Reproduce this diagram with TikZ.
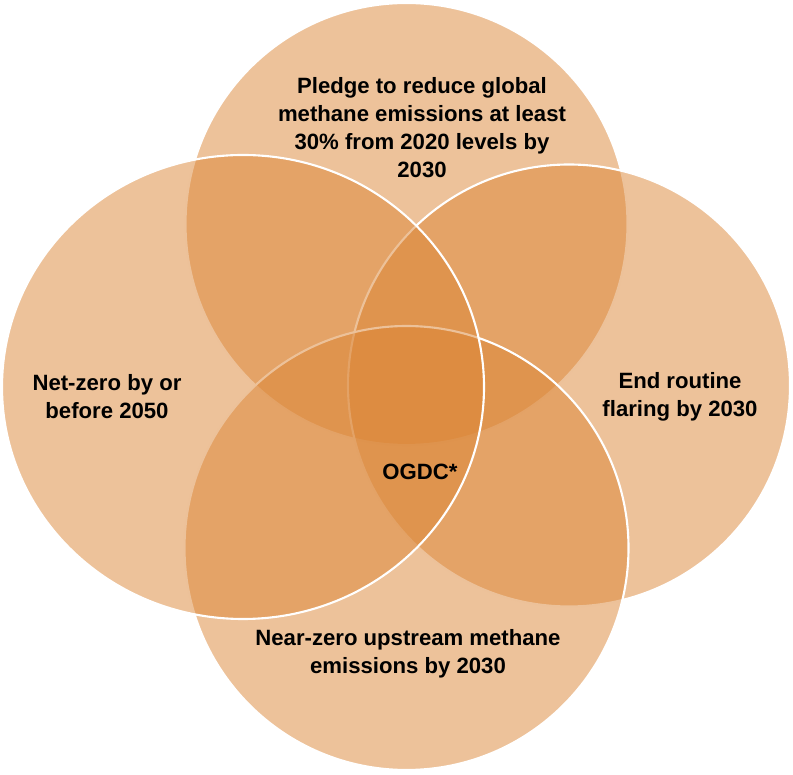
\documentclass[tikz,border=0pt]{standalone}
\usepackage{fontspec}
\setmainfont{Liberation Sans}
\usepackage{tikz}
\definecolor{venn}{RGB}{219,133,53}
\tikzset{ring/.style={fill=venn,fill opacity=0.5,draw=white,line width=1.2pt}}
\tikzset{txt/.style={align=center,font=\fontsize{12.6}{15.9}\selectfont\bfseries,inner sep=0pt}}

\begin{document}
\begin{tikzpicture}
    \useasboundingbox (0,0) rectangle (15.86,15.48);
      \path[ring] (8.13,11.00) circle (4.42);
      \path[ring] (11.38,7.77) circle (4.42);
      \path[ring] (8.13,4.52) circle (4.44);
      \path[ring] (4.86,7.74) ellipse (4.82 and 4.64);
      \node[txt] (pledge) at (8.44,12.92) {Pledge to reduce global\\methane emissions at least\\30\% from 2020 levels by\\2030};
      \node[txt] (netzero) at (2.14,7.54) {Net-zero by or\\before 2050};
      \node[txt] (flaring) at (13.60,7.54) {End routine\\flaring by 2030};
      \node[txt] (upstream) at (8.16,2.40) {Near-zero upstream methane\\emissions by 2030};
      \node[txt] (ogdc) at (8.40,6.04) {OGDC*};
    \end{tikzpicture}
\end{document}
